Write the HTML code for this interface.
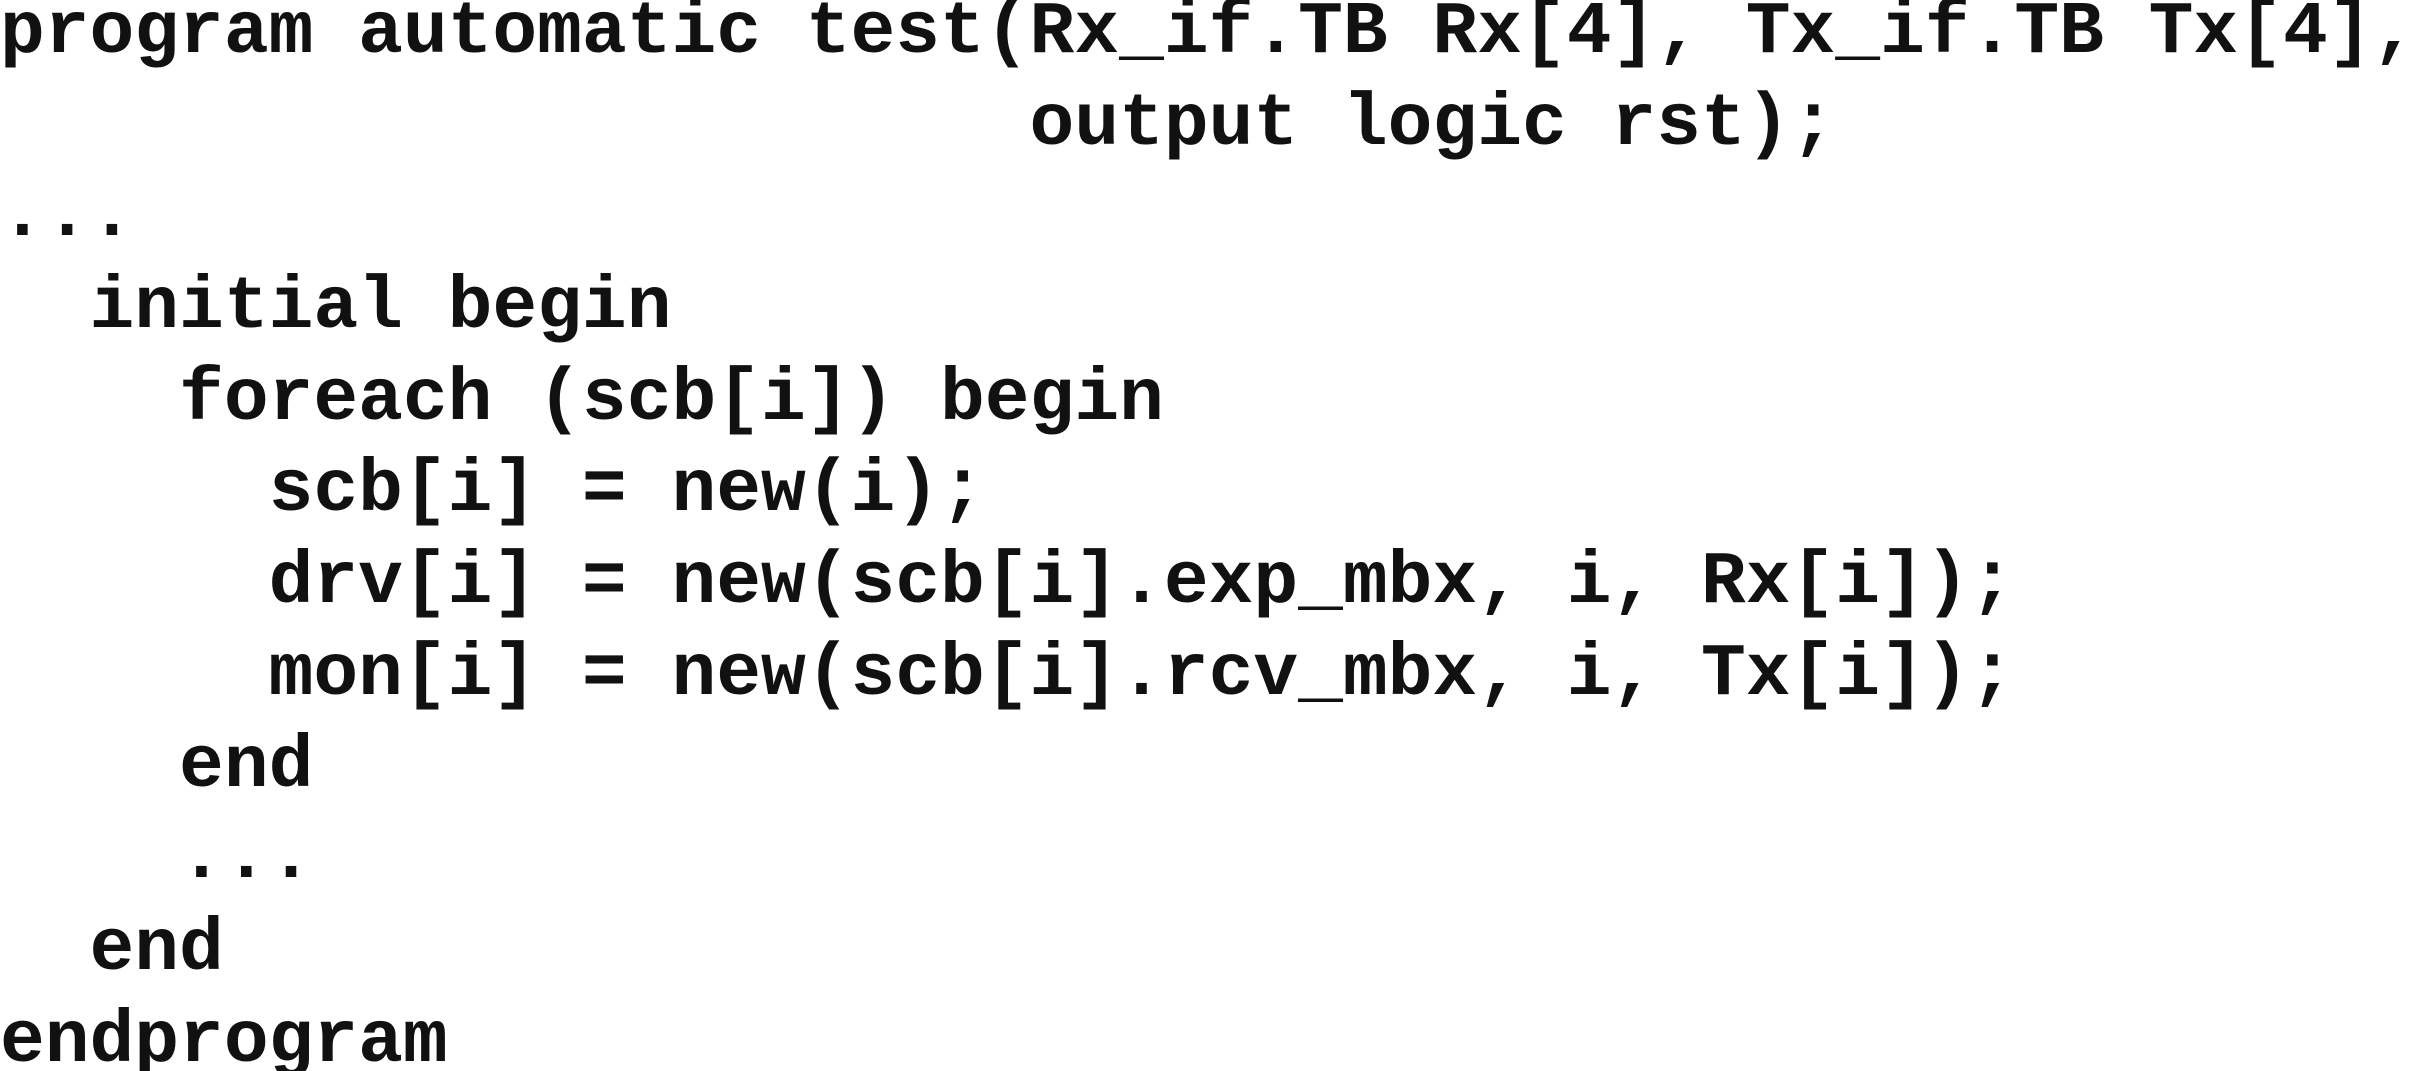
<!DOCTYPE html>
<html><head><meta charset="utf-8"><style>
html,body{margin:0;padding:0;background:#fff;width:2411px;height:1071px;overflow:hidden}
svg text{font-family:"Liberation Mono",monospace;font-weight:bold;font-size:74.6px;fill:#111;white-space:pre}
</style></head><body>
<svg width="2411" height="1071" xmlns="http://www.w3.org/2000/svg" xml:space="preserve">
<text x="0" y="52">program automatic test(Rx_if.TB Rx[4], Tx_if.TB Tx[4],</text>
<text x="0" y="144">                       output logic rst);</text>
<text x="0" y="235">...</text>
<text x="0" y="327">  initial begin</text>
<text x="0" y="419">    foreach (scb[i]) begin</text>
<text x="0" y="510">      scb[i] = new(i);</text>
<text x="0" y="602">      drv[i] = new(scb[i].exp_mbx, i, Rx[i]);</text>
<text x="0" y="694">      mon[i] = new(scb[i].rcv_mbx, i, Tx[i]);</text>
<text x="0" y="786">    end</text>
<text x="0" y="877">    ...</text>
<text x="0" y="969">  end</text>
<text x="0" y="1061">endprogram</text>
</svg>
</body></html>
